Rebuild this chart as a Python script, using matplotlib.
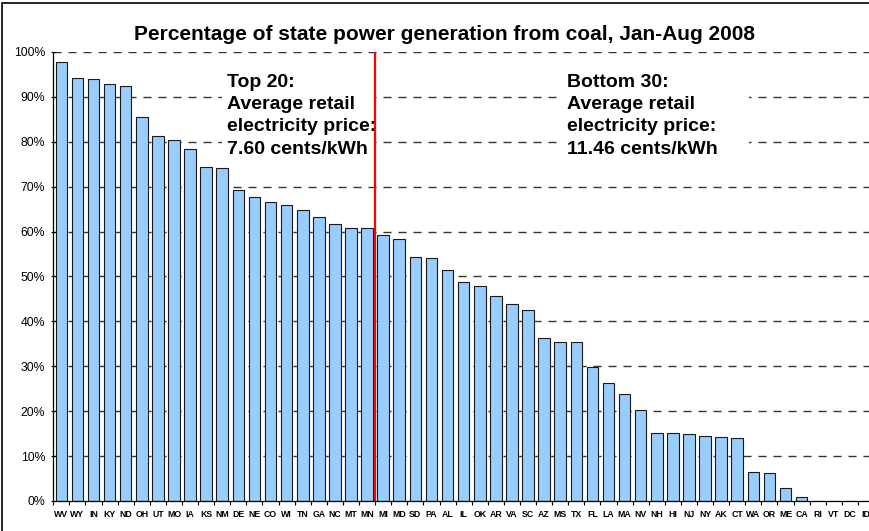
import matplotlib.pyplot as plt
import matplotlib.patches as patches
import numpy as np

plt.rcParams['font.family'] = ['Liberation Sans', 'DejaVu Sans']

# state codes, sorted by share of generation from coal
states = ['WV', 'WY', 'IN', 'KY', 'ND', 'OH', 'UT', 'MO', 'IA', 'KS', 'NM', 'DE', 'NE',
          'CO', 'WI', 'TN', 'GA', 'NC', 'MT', 'MN', 'MI', 'MD', 'SD', 'PA', 'AL', 'IL',
          'OK', 'AR', 'VA', 'SC', 'AZ', 'MS', 'TX', 'FL', 'LA', 'MA', 'NV', 'NH', 'HI',
          'NJ', 'NY', 'AK', 'CT', 'WA', 'OR', 'ME', 'CA', 'RI', 'VT', 'DC', 'ID']
coal_pct = [97.8, 94.2, 93.9, 92.9, 92.5, 85.5, 81.4, 80.3, 78.3, 74.4, 74.1, 69.2, 67.8,
            66.5, 66.0, 64.7, 63.3, 61.6, 60.9, 60.7, 59.2, 58.4, 54.3, 54.1, 51.5, 48.8,
            47.8, 45.7, 43.9, 42.6, 36.3, 35.4, 35.4, 29.9, 26.3, 23.9, 20.3, 15.1, 15.1,
            14.9, 14.5, 14.2, 14.0, 6.5, 6.3, 2.8, 1.0, 0.0, 0.0, 0.0, 0.0]
y_ticks = list(range(0, 101, 10))
split_after = 20  # top 20 vs the rest

top_text = 'Top 20:\nAverage retail\nelectricity price:\n7.60 cents/kWh'
bottom_text = 'Bottom 30:\nAverage retail\nelectricity price:\n11.46 cents/kWh'

fig = plt.figure(figsize=(8.69, 5.31), dpi=100)
ax = fig.add_axes([0.0613, 0.0565, 0.9445, 0.8456])

x = np.arange(len(states))
ax.bar(x, coal_pct, width=0.72, color='#99ccff', edgecolor='#1a1a1a', linewidth=0.8, zorder=3)

# dashed gridlines behind bars
for yv in y_ticks[1:]:
    ax.axhline(yv, color='#333333', linewidth=1.0, linestyle=(0, (5.8, 5.0)), zorder=0.5)

# white panels behind the price notes
ax.add_patch(patches.Rectangle((9.98, 72.5), 9.6, 25.0, facecolor='white', edgecolor='none', zorder=1))
ax.add_patch(patches.Rectangle((31.0, 72.5), 11.7, 25.0, facecolor='white', edgecolor='none', zorder=1))

ax.text(10.3, 95.1, top_text, fontsize=14, fontweight='bold', va='top', ha='left',
        linespacing=1.4, zorder=4)
ax.text(31.4, 95.1, bottom_text, fontsize=14, fontweight='bold', va='top', ha='left',
        linespacing=1.4, zorder=4)

ax.plot([split_after - 0.5, split_after - 0.5], [0, 100], color='red', linewidth=1.6, zorder=5)

ax.set_xlim(-0.5, len(states) - 0.5)
ax.set_ylim(0, 100)
ax.set_yticks(y_ticks)
ax.set_yticklabels([f'{v}%' for v in y_ticks], fontsize=8.8)
ax.tick_params(axis='y', direction='inout', length=3.6, width=0.8, pad=4)

ax.set_xticks(x)
ax.set_xticklabels(states, fontsize=6.3, fontweight='bold')
ax.set_xticks(np.arange(-0.5, len(states), 1), minor=True)
ax.tick_params(axis='x', which='major', length=0, pad=6.5)
ax.tick_params(axis='x', which='minor', direction='out', length=3, width=0.8)

for side in ['top', 'right']:
    ax.spines[side].set_visible(False)
ax.spines['left'].set_linewidth(0.9)
ax.spines['bottom'].set_linewidth(0.9)
ax.spines['left'].set_zorder(6)
ax.spines['bottom'].set_zorder(6)

fig.text(444 / 869, 1 - 39.5 / 531, 'Percentage of state power generation from coal, Jan-Aug 2008',
         fontsize=15, fontweight='bold', ha='center', va='baseline')

# chart area frame (only left and top edges fall inside the image)
fig.patches.append(patches.Rectangle((2.3 / 869, -0.1), 1.2, 1.1 - 3.3 / 531, transform=fig.transFigure,
                                     fill=False, edgecolor='black', linewidth=1.2))

plt.savefig('out.png', dpi=100)
